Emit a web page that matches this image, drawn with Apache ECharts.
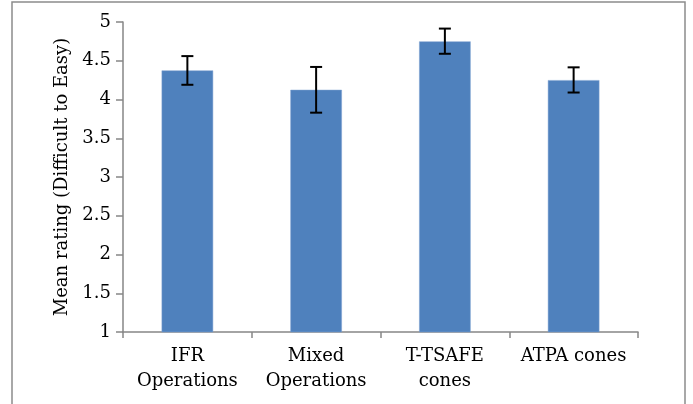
<!DOCTYPE html>
<html><head><meta charset="utf-8">
<script src="https://cdn.jsdelivr.net/npm/echarts@6/dist/echarts.min.js"></script>
<style>html,body{margin:0;padding:0;background:#fff}#c{width:693px;height:404px}</style>
</head><body><div id="c"></div>
<script>
const categories = ['IFR\nOperations', 'Mixed\nOperations', 'T-TSAFE\ncones', 'ATPA cones'];
const means = [4.375, 4.125, 4.75, 4.25];
const errLow = [4.19, 3.83, 4.59, 4.09];
const errHigh = [4.56, 4.42, 4.915, 4.415];
const yTicks = { min: 1, max: 5, interval: 0.5 };

const FONT = 'DejaVu Serif';
const chart = echarts.init(document.getElementById('c'), null, { renderer: 'canvas' });
chart.setOption({
  animation: false,
  backgroundColor: '#fff',
  graphic: [{
    type: 'rect', shape: { x: 12, y: 2, width: 673, height: 420 },
    style: { fill: 'none', stroke: '#8c8c8c', lineWidth: 1.5 }, silent: true
  }],
  grid: { left: 123, right: 55, top: 22, bottom: 72 },
  xAxis: {
    type: 'category', data: categories,
    axisLine: { lineStyle: { color: '#868686', width: 1.5 } },
    axisTick: { show: true, length: 6, lineStyle: { color: '#868686', width: 1.5 } },
    axisLabel: { color: '#000', fontFamily: FONT, fontSize: 18, lineHeight: 25, margin: 12, interval: 0 }
  },
  yAxis: {
    type: 'value', min: yTicks.min, max: yTicks.max, interval: yTicks.interval,
    name: 'Mean rating (Difficult to Easy)', nameLocation: 'middle', nameGap: 51,
    nameTextStyle: { color: '#000', fontFamily: FONT, fontSize: 18 },
    axisLine: { show: true, lineStyle: { color: '#868686', width: 1.5 } },
    axisTick: { show: true, length: 7, lineStyle: { color: '#868686', width: 1.5 } },
    splitLine: { show: false },
    axisLabel: { color: '#000', fontFamily: FONT, fontSize: 18, margin: 12 }
  },
  series: [{
    type: 'bar', data: means, barWidth: '40%',
    itemStyle: { color: '#4F81BD', borderColor: '#7fa3d0', borderWidth: 0.5 }
  }, {
    type: 'custom',
    data: categories.map((c, i) => [i, errLow[i], errHigh[i]]),
    renderItem: function (params, api) {
      const lo = api.coord([api.value(0), api.value(1)]);
      const hi = api.coord([api.value(0), api.value(2)]);
      const hw = 6;
      const st = { stroke: '#000', lineWidth: 2 };
      return {
        type: 'group', children: [
          { type: 'line', shape: { x1: lo[0], y1: lo[1], x2: hi[0], y2: hi[1] }, style: st },
          { type: 'line', shape: { x1: lo[0] - hw, y1: lo[1], x2: lo[0] + hw, y2: lo[1] }, style: st },
          { type: 'line', shape: { x1: hi[0] - hw, y1: hi[1], x2: hi[0] + hw, y2: hi[1] }, style: st }
        ]
      };
    },
    z: 10
  }]
});
</script></body></html>
